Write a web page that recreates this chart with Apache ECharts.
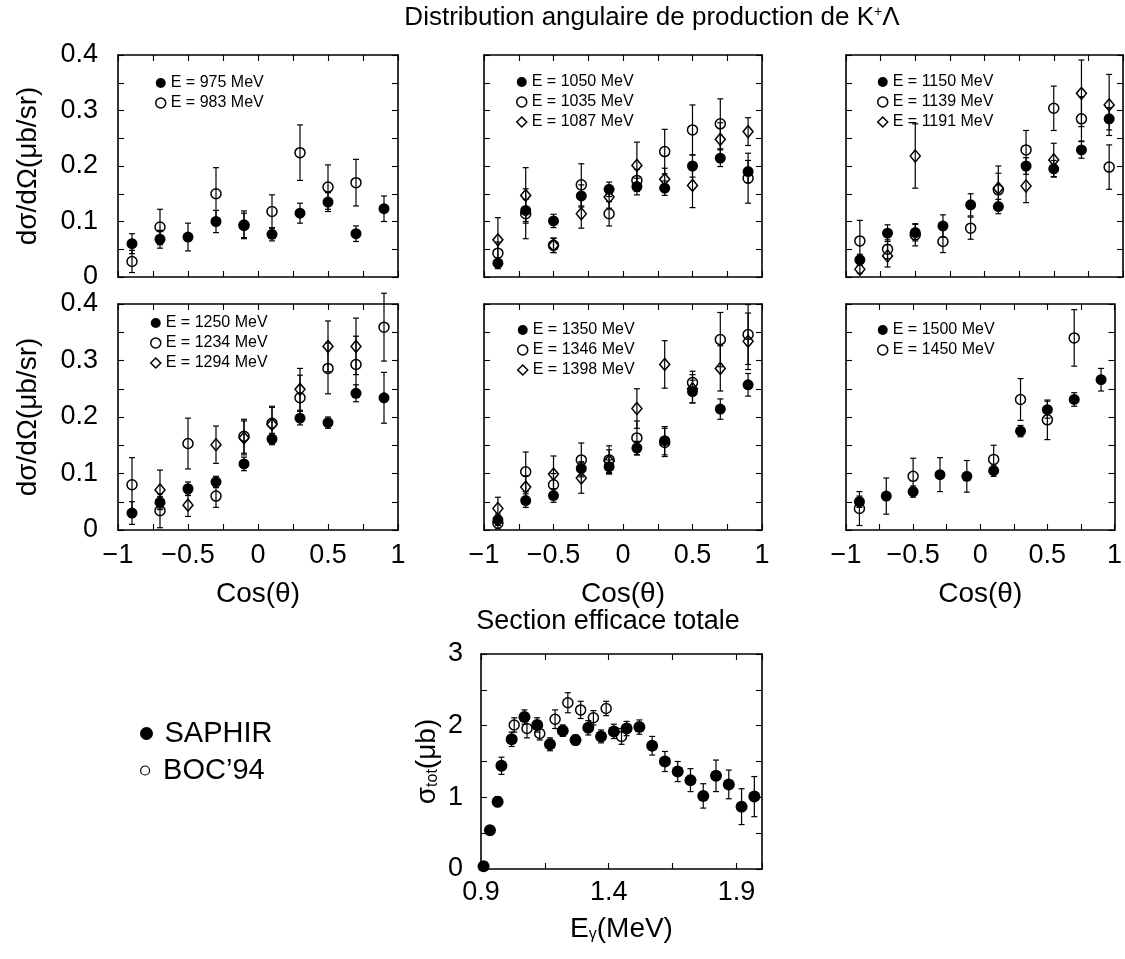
<!DOCTYPE html>
<html><head><meta charset="utf-8">
<script src="https://cdn.jsdelivr.net/npm/echarts@6/dist/echarts.min.js"></script>
<style>html,body{margin:0;padding:0;background:#fff}#c{width:1125px;height:959px}</style>
</head><body><div id="c"></div>
<script>
// ---------------- DATA ----------------
const cosBins = [-0.9,-0.7,-0.5,-0.3,-0.1,0.1,0.3,0.5,0.7,0.9];
const cosTickLabels = [-1,-0.5,0,0.5,1];
const dsTickLabels = [0,0.1,0.2,0.3,0.4];
const eTickLabels = [0.9,1.4,1.9];
const sigTickLabels = [0,1,2,3];

// panel 1
const E975    = [0.060,0.068,0.072,0.100,0.094,0.077,0.115,0.135,0.078,0.123];
const E975err = [0.018,0.016,0.025,0.020,0.025,0.012,0.018,0.017,0.014,0.023];
const E983    = [0.028,0.090,null,0.150,0.093,0.118,0.224,0.162,0.170,null];
const E983err = [0.020,0.032,null,0.047,0.022,0.030,0.050,0.040,0.042,null];
// panel 2
const E1050    = [0.025,0.120,0.101,0.146,0.158,0.163,0.160,0.200,0.214,0.190];
const E1050err = [0.010,0.020,0.012,0.020,0.013,0.015,0.013,0.020,0.015,0.020];
const E1035    = [0.043,0.114,0.057,0.166,0.114,0.174,0.226,0.265,0.276,0.178];
const E1035err = [0.020,0.045,0.013,0.038,0.022,0.020,0.040,0.045,0.045,0.045];
const E1087    = [0.067,0.147,0.057,0.114,0.144,0.201,0.176,0.165,0.248,0.262];
const E1087err = [0.040,0.050,0.013,0.026,0.020,0.042,0.020,0.040,0.030,0.025];
// panel 3
const E1150    = [0.031,0.079,0.080,0.092,0.130,0.127,0.200,0.195,0.229,0.285];
const E1150err = [0.010,0.015,0.015,0.020,0.020,0.013,0.015,0.015,0.015,0.020];
const E1139    = [0.065,0.050,0.076,0.064,0.088,0.157,0.229,0.304,0.285,0.198];
const E1139err = [0.037,0.017,0.020,0.020,0.020,0.030,0.035,0.040,0.040,0.040];
const E1191    = [0.014,0.038,0.218,null,null,0.160,0.164,0.211,0.331,0.310];
const E1191err = [0.007,0.020,0.058,null,null,0.040,0.030,0.030,0.060,0.055];
// panel 4
const E1250    = [0.030,0.049,0.073,0.085,0.117,0.161,0.198,0.190,0.242,0.234];
const E1250err = [0.020,0.010,0.012,0.010,0.012,0.010,0.012,0.010,0.015,0.045];
const E1234    = [0.080,0.034,0.153,0.060,0.166,0.189,0.234,0.286,0.293,0.359];
const E1234err = [0.048,0.030,0.045,0.020,0.030,0.030,0.040,0.045,0.050,0.060];
const E1294    = [null,0.071,0.044,0.151,0.163,0.187,0.249,0.325,0.325,null];
const E1294err = [null,0.035,0.020,0.033,0.030,0.030,0.037,0.045,0.050,null];
// panel 5
const E1350    = [0.018,0.052,0.061,0.109,0.112,0.145,0.158,0.245,0.214,0.257];
const E1350err = [0.010,0.012,0.012,0.012,0.012,0.012,0.025,0.020,0.018,0.020];
const E1346    = [0.012,0.103,0.080,0.124,0.124,0.163,0.155,0.261,0.337,0.346];
const E1346err = [0.010,0.035,0.020,0.030,0.025,0.030,0.025,0.020,0.048,0.053];
const E1398    = [0.038,0.076,0.099,0.092,0.122,0.215,0.293,0.250,0.286,0.334];
const E1398err = [0.020,0.020,0.032,0.027,0.020,0.035,0.042,0.025,0.040,0.050];
// panel 6
const E1500    = [0.050,0.060,0.068,0.098,0.095,0.105,0.175,0.213,0.231,0.266];
const E1500err = [0.010,0.032,0.010,0.030,0.028,0.010,0.010,0.015,0.012,0.020];
const E1450    = [0.038,null,0.095,null,null,0.125,0.231,0.195,0.340,null];
const E1450err = [0.030,null,0.032,null,null,0.025,0.037,0.035,0.050,null];
// total cross section
const sapE   = [0.91,0.935,0.965,0.98,1.02,1.07,1.12,1.17,1.22,1.27,1.32,1.37,1.42,1.47,1.52,1.57,1.62,1.67,1.72,1.77,1.82,1.87,1.92,1.97];
const sapSig = [0.04,0.54,0.94,1.44,1.81,2.12,2.01,1.74,1.93,1.80,1.97,1.85,1.92,1.96,1.98,1.72,1.50,1.36,1.24,1.02,1.30,1.18,0.87,1.01];
const sapErr = [0.02,0.04,0.07,0.12,0.10,0.10,0.10,0.09,0.08,0.07,0.10,0.09,0.10,0.10,0.10,0.13,0.14,0.14,0.16,0.17,0.22,0.20,0.25,0.28];
const bocE   = [1.03,1.08,1.13,1.19,1.24,1.29,1.34,1.39,1.45];
const bocSig = [2.01,1.96,1.89,2.09,2.32,2.22,2.11,2.24,1.85];
const bocErr = [0.10,0.13,0.09,0.13,0.14,0.12,0.10,0.10,0.11];

// ---------------- STYLE / LAYOUT ----------------
const FONT = "'Liberation Sans', Arial, Helvetica, sans-serif";
const TXT = {fontFamily: FONT, color: '#000'};
const near = (v, arr) => arr.some(a => Math.abs(a - v) < 1e-6);
const labelFmt = (arr, digits) => v => near(v, arr)
  ? (digits == null ? String(+(+v).toFixed(2)) : (+v).toFixed(digits)).replace('-', '\u2212') : '';

const AX_LINE = {show: true, onZero: false, lineStyle: {color: '#000', width: 1.6}};
const TICK = {show: true, inside: true, length: 6, lineStyle: {color: '#000', width: 1.1}};

const STY = {
  filled:  {symbol: 'circle', size: 11, item: {color: '#000', opacity: 1}},
  open:    {symbol: 'circle', size: 10, item: {color: 'rgba(255,255,255,0)', borderColor: '#000', borderWidth: 1.5, opacity: 1}},
  diamond: {symbol: 'diamond', size: [10, 12], item: {color: 'rgba(255,255,255,0)', borderColor: '#000', borderWidth: 1.5, opacity: 1}}
};

const panels = [
  {box: {left: 118, top: 55, width: 280, height: 222}, xLab: false, yLab: true, leg: {left: 155, top: 75},
   sets: [['E = 975 MeV', 'filled', E975, E975err], ['E = 983 MeV', 'open', E983, E983err]]},
  {box: {left: 484, top: 55, width: 278, height: 222}, xLab: false, yLab: false, leg: {left: 516, top: 74},
   sets: [['E = 1050 MeV', 'filled', E1050, E1050err], ['E = 1035 MeV', 'open', E1035, E1035err], ['E = 1087 MeV', 'diamond', E1087, E1087err]]},
  {box: {left: 846, top: 55, width: 277, height: 222}, xLab: false, yLab: false, leg: {left: 877, top: 74},
   sets: [['E = 1150 MeV', 'filled', E1150, E1150err], ['E = 1139 MeV', 'open', E1139, E1139err], ['E = 1191 MeV', 'diamond', E1191, E1191err]]},
  {box: {left: 118, top: 304, width: 280, height: 226}, xLab: true, yLab: true, leg: {left: 150, top: 315},
   sets: [['E = 1250 MeV', 'filled', E1250, E1250err], ['E = 1234 MeV', 'open', E1234, E1234err], ['E = 1294 MeV', 'diamond', E1294, E1294err]]},
  {box: {left: 484, top: 304, width: 278, height: 226}, xLab: true, yLab: false, leg: {left: 517, top: 322},
   sets: [['E = 1350 MeV', 'filled', E1350, E1350err], ['E = 1346 MeV', 'open', E1346, E1346err], ['E = 1398 MeV', 'diamond', E1398, E1398err]]},
  {box: {left: 846, top: 304, width: 277, height: 226}, xLab: true, yLab: false, leg: {left: 877, top: 322},
   sets: [['E = 1500 MeV', 'filled', E1500, E1500err], ['E = 1450 MeV', 'open', E1450, E1450err]]}
];

function errRender(params, api) {
  const x = api.value(0), y = api.value(1), e = api.value(2);
  const p1 = api.coord([x, y - e]), p2 = api.coord([x, y + e]);
  const cw = 3;
  const style = {stroke: '#000', lineWidth: 1.2, fill: null};
  return {type: 'group', children: [
    {type: 'line', shape: {x1: p1[0], y1: p1[1], x2: p2[0], y2: p2[1]}, style},
    {type: 'line', shape: {x1: p1[0] - cw, y1: p1[1], x2: p1[0] + cw, y2: p1[1]}, style},
    {type: 'line', shape: {x1: p2[0] - cw, y1: p2[1], x2: p2[0] + cw, y2: p2[1]}, style}
  ]};
}

const option = {animation: false, grid: [], xAxis: [], yAxis: [], series: [], legend: [], graphic: []};

function addAxes(gi, xc, yc) {
  option.xAxis.push(
    {type: 'value', gridIndex: gi, position: 'bottom', min: xc.min, max: xc.max, interval: xc.interval,
     axisLine: AX_LINE, axisTick: TICK, splitLine: {show: false},
     axisLabel: Object.assign({show: xc.show, margin: xc.margin, fontSize: 27, formatter: labelFmt(xc.labels, xc.digits)}, TXT),
     name: xc.show ? xc.name : '', nameLocation: 'middle', nameGap: xc.nameGap,
     nameTextStyle: Object.assign({fontSize: 28, rich: {sub: {fontSize: 16, verticalAlign: 'bottom', lineHeight: 14, fontFamily: FONT, color: '#000'}}}, TXT)},
    {type: 'value', gridIndex: gi, position: 'top', min: xc.min, max: xc.max, interval: xc.interval,
     axisLine: AX_LINE, axisTick: TICK, splitLine: {show: false}, axisLabel: {show: false}}
  );
  option.yAxis.push(
    {type: 'value', gridIndex: gi, position: 'left', min: yc.min, max: yc.max, interval: yc.interval,
     axisLine: AX_LINE, axisTick: TICK, splitLine: {show: false},
     axisLabel: Object.assign({show: yc.show, margin: yc.margin, fontSize: 27, formatter: labelFmt(yc.labels, yc.digits)}, TXT),
     name: yc.show ? yc.name : '', nameLocation: 'middle', nameGap: yc.nameGap,
     nameTextStyle: Object.assign({fontSize: 28, rich: {sub: {fontSize: 16, verticalAlign: 'bottom', lineHeight: 14, fontFamily: FONT, color: '#000'}}}, TXT)},
    {type: 'value', gridIndex: gi, position: 'right', min: yc.min, max: yc.max, interval: yc.interval,
     axisLine: AX_LINE, axisTick: TICK, splitLine: {show: false}, axisLabel: {show: false}}
  );
}

function addSeries(gi, name, styleKey, xs, ys, es) {
  const pts = [], errs = [];
  xs.forEach((x, i) => { if (ys[i] != null) { pts.push([x, ys[i]]); errs.push([x, ys[i], es[i]]); } });
  const s = STY[styleKey];
  option.series.push({type: 'custom', xAxisIndex: 2 * gi, yAxisIndex: 2 * gi, silent: true,
    renderItem: errRender, encode: {x: 0, y: 1}, data: errs, z: 2});
  option.series.push({type: 'scatter', name, xAxisIndex: 2 * gi, yAxisIndex: 2 * gi, silent: true,
    symbol: s.symbol, symbolSize: s.size, itemStyle: s.item, data: pts,
    z: styleKey === 'filled' ? 4 : 3});
}

panels.forEach((p, gi) => {
  option.grid.push(Object.assign({containLabel: false}, p.box));
  addAxes(gi,
    {min: -1, max: 1, interval: 0.25, show: p.xLab, labels: cosTickLabels, margin: 12, name: 'Cos(\u03b8)', nameGap: 50},
    {min: 0, max: 0.4, interval: 0.05, show: p.yLab, labels: dsTickLabels, margin: 20, name: 'd\u03c3/d\u03a9(\u03bcb/sr)', nameGap: 76});
  p.sets.forEach(([name, sk, v, e]) => addSeries(gi, name, sk, cosBins, v, e));
  option.legend.push({left: p.leg.left, top: p.leg.top, orient: 'vertical', padding: 0, itemGap: 4,
    itemWidth: 10, itemHeight: 10, selectedMode: false, data: p.sets.map(s => s[0]),
    itemStyle: {borderWidth: 1.5, opacity: 1},
    textStyle: Object.assign({fontSize: 16, lineHeight: 15}, TXT)});
});

// total cross-section panel
const G = 6;
option.grid.push({left: 481, top: 654, width: 281, height: 215});
addAxes(G,
  {min: 0.9, max: 2.0, interval: 0.25, show: true, labels: eTickLabels, digits: 1, margin: 10, name: 'E{sub|\u03b3}(MeV)', nameGap: 46},
  {min: 0, max: 3, interval: 0.5, show: true, labels: sigTickLabels, margin: 18, name: '\u03c3{sub|tot}(\u03bcb)', nameGap: 40});
addSeries(G, 'BOC\u201994', 'open', bocE, bocSig, bocErr);
addSeries(G, 'SAPHIR', 'filled', sapE, sapSig, sapErr);
option.series[option.series.length - 1].symbolSize = 12;
option.series[option.series.length - 3].symbolSize = 10;

option.legend.push({left: 140, top: 719, orient: 'vertical', padding: 0, itemWidth: 26, itemHeight: 13,
  selectedMode: false, data: ['SAPHIR'], itemStyle: {opacity: 1},
  textStyle: Object.assign({fontSize: 29, lineHeight: 28}, TXT)});
option.legend.push({left: 140, top: 756, orient: 'vertical', padding: 0, itemWidth: 26, itemHeight: 9,
  selectedMode: false, data: ['BOC\u201994'], itemStyle: {borderWidth: 1.2, opacity: 1},
  textStyle: Object.assign({fontSize: 29, lineHeight: 28}, TXT)});

option.graphic = [
  {type: 'text', x: 652, y: 18, silent: true,
   style: {text: 'Distribution angulaire de production de K{sup|+}\u039b', align: 'center', verticalAlign: 'middle',
     fontSize: 26, fontFamily: "'Liberation Sans Narrow', 'Liberation Sans', Arial, sans-serif", fill: '#000',
     rich: {sup: {fontSize: 14, verticalAlign: 'top', lineHeight: 14, fontFamily: FONT, fill: '#000'}}}},
  {type: 'text', x: 608, y: 622, silent: true,
   style: {text: 'Section efficace totale', align: 'center', verticalAlign: 'middle',
     fontSize: 27, fontFamily: FONT, fill: '#000'}}
];

const chart = echarts.init(document.getElementById('c'), null, {renderer: 'canvas'});
chart.setOption(option);
</script></body></html>
